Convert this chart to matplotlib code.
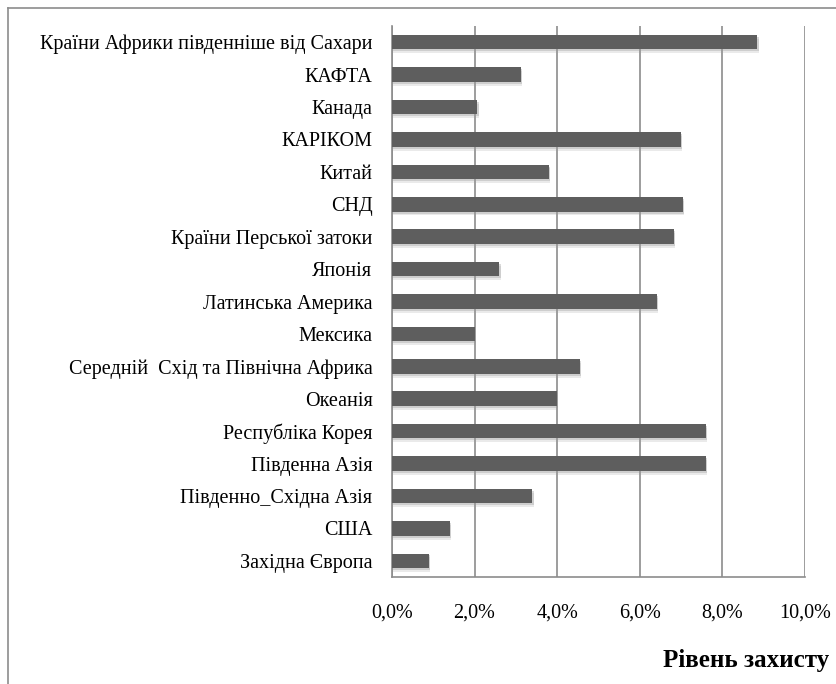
import matplotlib
matplotlib.use('Agg')
import matplotlib.pyplot as plt
from matplotlib.lines import Line2D
from matplotlib.ticker import FuncFormatter

# Regions, listed top to bottom as in the chart
regions = ['Країни Африки південніше від Сахари', 'КАФТА', 'Канада', 'КАРІКОМ',
           'Китай', 'СНД', 'Країни Перської затоки', 'Японія',
           'Латинська Америка', 'Мексика', 'Середній  Схід та Північна Африка',
           'Океанія', 'Республіка Корея', 'Південна Азія', 'Південно_Східна Азія',
           'США', 'Західна Європа']
# Protection level, percent
protection = [8.85, 3.12, 2.07, 7.0, 3.8, 7.05, 6.83, 2.6, 6.42, 2.0,
              4.55, 4.0, 7.6, 7.6, 3.4, 1.4, 0.9]
xticks = [0, 2, 4, 6, 8, 10]

plt.rcParams['font.family'] = ['Liberation Serif', 'DejaVu Serif']

fig = plt.figure(figsize=(8.37, 6.84), dpi=100)
ax = fig.add_axes([0.4683, 0.1564, 0.4934, 0.8056])

y = list(range(len(regions)))[::-1]
# soft shadow under bars
for off, a in [(0.06, 0.35), (0.12, 0.2)]:
    ax.barh([v - off for v in y], [p + 0.03 for p in protection], height=0.45,
            color='#9a9a9a', alpha=a, linewidth=0, zorder=2)
ax.barh(y, protection, height=0.45, color='#5e5e5e', linewidth=0, zorder=3)

ax.set_xlim(0, 10)
ax.set_ylim(-0.5, len(regions) - 0.5)
ax.set_xticks(xticks)
ax.xaxis.set_major_formatter(FuncFormatter(lambda v, p: f'{v:.1f}%'.replace('.', ',')))
ax.set_yticks(y)
ax.set_yticklabels(regions)
ax.tick_params(axis='both', length=0, labelsize=14.5, colors='black')
ax.tick_params(axis='x', pad=19)
ax.tick_params(axis='y', pad=14)
ax.grid(axis='x', color='#8c8c8c', linewidth=1.2, zorder=1)
for s in ['top', 'right']:
    ax.spines[s].set_visible(False)
for s in ['left', 'bottom']:
    ax.spines[s].set_color('#8c8c8c')
    ax.spines[s].set_linewidth(1.2)

fig.text(0.99, 0.018, 'Рівень захисту', ha='right', va='bottom',
         fontsize=18, fontweight='bold')

# outer chart frame (cropped: only top and left edges visible)
fig.add_artist(Line2D([8 / 837, 1], [1 - 8 / 684, 1 - 8 / 684], color='#8c8c8c', lw=1.2))
fig.add_artist(Line2D([8 / 837, 8 / 837], [0, 1 - 8 / 684], color='#8c8c8c', lw=1.2))

fig.savefig('out.png', dpi=100)
